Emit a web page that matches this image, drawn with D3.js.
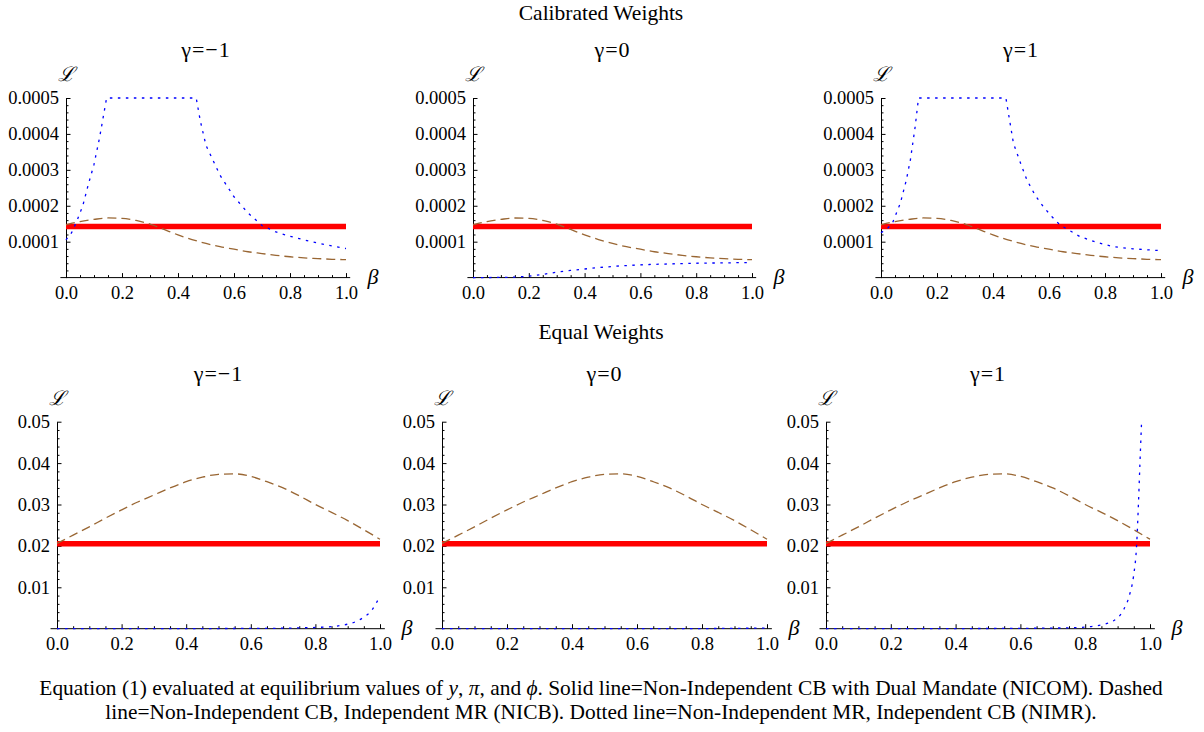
<!DOCTYPE html>
<html>
<head>
<meta charset="utf-8">
<script src="https://d3js.org/d3.v7.min.js"></script>
<style>
  html, body { margin: 0; padding: 0; background: #fff; }
  svg { display: block; }
  text { font-family: "Liberation Serif", "Times New Roman", serif; fill: #000; }
</style>
</head>
<body>
<svg id="chart" width="1204" height="732"></svg>
<script>
// ---------------- DATA ----------------
const sectionTitles = ["Calibrated Weights", "Equal Weights"];
const panelTitles = ["γ=−1", "γ=0", "γ=1"];
const xTicks = [0, 0.2, 0.4, 0.6, 0.8, 1.0];
const yTicksTop = [0.0001, 0.0002, 0.0003, 0.0004, 0.0005];
const yTicksBottom = [0.01, 0.02, 0.03, 0.04, 0.05];
const captionLine1 = ["Equation (1) evaluated at equilibrium values of ", "y", ", ", "π", ", and ", "ϕ", ". Solid line=Non-Independent CB with Dual Mandate (NICOM). Dashed"];
const captionLine2 = "line=Non-Independent CB, Independent MR (NICB). Dotted line=Non-Independent MR, Independent CB (NIMR).";

// Solid line (NICOM): constant
const nicomTop = 0.000142;
const nicomBottom = 0.0205;

// Dashed line (NICB), calibrated weights (same for all gamma)
const betaNicbTop = [0, 0.05, 0.1, 0.15, 0.2, 0.25, 0.3, 0.35, 0.4, 0.45, 0.5, 0.55, 0.6, 0.65, 0.7, 0.75, 0.8, 0.85, 0.9, 0.95, 1.0];
const nicbTop = [0.000147, 0.000156, 0.000162, 0.000166, 0.000165, 0.000159, 0.000149, 0.000134, 0.000119, 0.000106, 0.000095, 0.000086, 0.000079, 0.000072, 0.000067, 0.000062, 0.000058, 0.000055, 0.000053, 0.000051, 0.000050];

// Dashed line (NICB), equal weights
const betaNicbBottom = [0, 0.05, 0.1, 0.15, 0.2, 0.25, 0.3, 0.35, 0.4, 0.45, 0.5, 0.55, 0.6, 0.65, 0.7, 0.75, 0.8, 0.85, 0.9, 0.95, 1.0];
const nicbBottom = [0.0206, 0.0226, 0.0246, 0.0267, 0.0287, 0.0306, 0.0323, 0.0340, 0.0355, 0.0366, 0.0373, 0.0374, 0.0368, 0.0355, 0.0340, 0.0321, 0.0300, 0.0281, 0.0261, 0.0239, 0.0216];

// Dotted line (NIMR), calibrated weights
const betaNimrTopM1 = [0, 0.02, 0.04, 0.06, 0.08, 0.1, 0.12, 0.145, 0.465, 0.48, 0.5, 0.55, 0.6, 0.65, 0.7, 0.75, 0.8, 0.85, 0.9, 0.95, 1.0];
const nimrTopM1 = [0.000105, 0.000125, 0.000160, 0.000200, 0.000260, 0.000315, 0.000390, 0.0005, 0.0005, 0.000435, 0.000368, 0.000285, 0.000225, 0.000180, 0.000145, 0.000127, 0.000115, 0.000105, 0.000096, 0.000088, 0.000081];
const betaNimrTop0 = [0, 0.1, 0.15, 0.2, 0.25, 0.3, 0.35, 0.4, 0.5, 0.6, 0.7, 0.8, 0.9, 1.0];
const nimrTop0 = [0, 0.0000005, 0.0000015, 0.000004, 0.000009, 0.000015, 0.00002, 0.000024, 0.000031, 0.0000355, 0.000038, 0.00004, 0.000041, 0.000042];
const betaNimrTopP1 = [0, 0.02, 0.04, 0.069, 0.09, 0.105, 0.122, 0.134, 0.446, 0.473, 0.5, 0.521, 0.55, 0.58, 0.61, 0.64, 0.711, 0.77, 0.83, 0.9, 1.0];
const nimrTopP1 = [0.000125, 0.000135, 0.000150, 0.000207, 0.000270, 0.000328, 0.000420, 0.0005, 0.0005, 0.000374, 0.000315, 0.000272, 0.000230, 0.000197, 0.000170, 0.000146, 0.000114, 0.000098, 0.000086, 0.000080, 0.000075];

// Dotted line (NIMR), equal weights
const betaNimrBotM1 = [0, 0.3, 0.5, 0.6, 0.7, 0.75, 0.8, 0.85, 0.9, 0.925, 0.95, 0.975, 1.0];
const nimrBotM1 = [0, 0.00001, 0.00004, 0.00007, 0.00012, 0.0002, 0.0003, 0.0005, 0.0011, 0.0017, 0.0028, 0.0045, 0.0079];
const betaNimrBot0 = [0, 0.5, 0.7, 0.8, 0.9, 1.0];
const nimrBot0 = [0, 0.000002, 0.00001, 0.00003, 0.00008, 0.00015];
const betaNimrBotP1 = [0, 0.5, 0.7, 0.743, 0.8, 0.825, 0.86, 0.887, 0.9, 0.918, 0.938, 0.949, 0.959, 0.964, 0.969, 0.974];
const nimrBotP1 = [0, 0.00005, 0.00015, 0.0002, 0.0004, 0.0006, 0.0011, 0.0019, 0.0026, 0.0045, 0.0085, 0.0126, 0.0206, 0.0295, 0.04, 0.05];

// ---------------- LAYOUT ----------------
const SERIF = '"Liberation Serif", "Times New Roman", serif';
const rows = [
  { yMax: 0.0005, yTicks: yTicksTop, fmt: d3.format(".4f"), minorStep: 0.00002, yBot: 277.6, yTop: 98,
    titleY: 57, sectionY: 19.5,
    xs: [[66, 346], [473, 752], [881, 1161]],
    nicb: [betaNicbTop, nicbTop], nicom: nicomTop,
    nimr: [[betaNimrTopM1, nimrTopM1, d3.curveLinear], [betaNimrTop0, nimrTop0, d3.curveMonotoneX], [betaNimrTopP1, nimrTopP1, d3.curveLinear]] },
  { yMax: 0.05, yTicks: yTicksBottom, fmt: d3.format(".2f"), minorStep: 0.002, yBot: 628.7, yTop: 421.7,
    titleY: 381, sectionY: 339,
    xs: [[57, 380], [442, 767], [826, 1150]],
    nicb: [betaNicbBottom, nicbBottom], nicom: nicomBottom,
    nimr: [[betaNimrBotM1, nimrBotM1, d3.curveMonotoneX], [betaNimrBot0, nimrBot0, d3.curveMonotoneX], [betaNimrBotP1, nimrBotP1, d3.curveMonotoneX]] }
];

const svg = d3.select("#chart");
const zip = (a, b) => a.map((v, i) => [v, b[i]]);
const xMinor = d3.range(0, 1.0001, 0.05).filter(v => Math.abs(v * 5 - Math.round(v * 5)) > 1e-6);

rows.forEach((row, ri) => {
  svg.append("text")
    .attr("x", 601).attr("y", row.sectionY)
    .attr("text-anchor", "middle")
    .style("font-family", SERIF)
    .style("font-size", "21.5px")
    .text(sectionTitles[ri]);

  const yMinor = d3.range(row.minorStep, row.yMax + row.minorStep / 2, row.minorStep)
    .filter(v => row.yTicks.every(t => Math.abs(t - v) > row.minorStep / 10));

  row.xs.forEach((xr, ci) => {
    const x = d3.scaleLinear().domain([0, 1]).range(xr);
    const y = d3.scaleLinear().domain([0, row.yMax]).range([row.yBot, row.yTop]);
    const g = svg.append("g");

    // title
    g.append("text")
      .attr("x", (xr[0] + xr[1]) / 2).attr("y", row.titleY)
      .attr("text-anchor", "middle")
      .style("font-family", SERIF)
      .style("font-size", "22px")
      .style("letter-spacing", "1px")
      .text(panelTitles[ci]);

    // x axis line (extends a little past the data range, Mathematica style)
    g.append("line")
      .attr("x1", x(-0.02)).attr("x2", x(1.015))
      .attr("y1", y(0)).attr("y2", y(0))
      .attr("stroke", "#000").attr("stroke-width", 1);

    // x major ticks + labels
    const xAxis = d3.axisBottom(x).tickValues(xTicks).tickFormat(d3.format(".1f"))
      .tickSizeInner(-4.5).tickSizeOuter(0).tickPadding(8);
    const gx = g.append("g").attr("transform", `translate(0,${y(0)})`).call(xAxis);
    gx.select(".domain").remove();
    gx.selectAll("text").style("font-size", "18.5px").style("font-family", SERIF);

    // x minor ticks
    const gxm = g.append("g").attr("transform", `translate(0,${y(0)})`)
      .call(d3.axisBottom(x).tickValues(xMinor).tickFormat("").tickSizeInner(-2.5).tickSizeOuter(0));
    gxm.select(".domain").remove();

    // y axis
    const yAxis = d3.axisLeft(y).tickValues(row.yTicks).tickFormat(row.fmt)
      .tickSizeInner(-4.5).tickSizeOuter(0).tickPadding(7);
    const gy = g.append("g").attr("transform", `translate(${x(0)},0)`).call(yAxis);
    gy.select(".domain").attr("stroke", "#000");
    gy.selectAll("text").style("font-size", "18.5px").style("font-family", SERIF);

    const gym = g.append("g").attr("transform", `translate(${x(0)},0)`)
      .call(d3.axisLeft(y).tickValues(yMinor).tickFormat("").tickSizeInner(-2.5).tickSizeOuter(0));
    gym.select(".domain").remove();

    g.selectAll(".tick line").attr("stroke", "#000");

    // axis labels
    g.append("text")
      .attr("x", x(0)).attr("y", row.yTop - 17)
      .attr("text-anchor", "middle")
      .style("font-family", SERIF)
      .style("font-size", "20px").style("font-style", "italic")
      .text("ℒ");
    g.append("text")
      .attr("x", x(1) + 27).attr("y", y(0) + 6)
      .attr("text-anchor", "middle")
      .style("font-family", SERIF)
      .style("font-size", "22px").style("font-style", "italic")
      .text("β");

    // solid NICOM
    g.append("path")
      .datum([[0, row.nicom], [1, row.nicom]])
      .attr("d", d3.line().x(d => x(d[0])).y(d => y(d[1])))
      .attr("fill", "none").attr("stroke", "#ff0000").attr("stroke-width", 5.5);

    // dashed NICB
    g.append("path")
      .datum(zip(row.nicb[0], row.nicb[1]))
      .attr("d", d3.line().curve(d3.curveMonotoneX).x(d => x(d[0])).y(d => y(d[1])))
      .attr("fill", "none").attr("stroke", "#996633").attr("stroke-width", 1.3)
      .attr("stroke-dasharray", "9,5");

    // dotted NIMR
    const nm = row.nimr[ci];
    g.append("path")
      .datum(zip(nm[0], nm[1]))
      .attr("d", d3.line().curve(nm[2]).x(d => x(d[0])).y(d => y(d[1])))
      .attr("fill", "none").attr("stroke", "#0000ff").attr("stroke-width", 1.3)
      .attr("stroke-dasharray", "2.5,5.5");
  });
});

// caption
const cap = svg.append("text").attr("x", 601).attr("y", 695).attr("text-anchor", "middle")
  .style("font-family", SERIF).style("font-size", "21.4px");
captionLine1.forEach((s, i) => {
  cap.append("tspan").style("font-style", i % 2 === 1 ? "italic" : "normal").text(s);
});
svg.append("text").attr("x", 601).attr("y", 719).attr("text-anchor", "middle")
  .style("font-family", SERIF).style("font-size", "21.4px").text(captionLine2);
</script>
</body>
</html>
